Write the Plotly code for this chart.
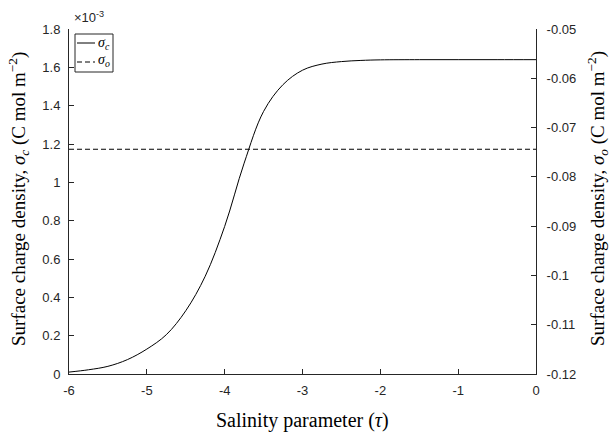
import plotly.graph_objects as go

# ---------------- data ----------------
tau = [-6.0, -5.75, -5.5, -5.25, -5.0, -4.75, -4.5, -4.25, -4.0, -3.75,
       -3.5, -3.25, -3.0, -2.75, -2.5, -2.25, -2.0, -1.5, -1.0, -0.5, 0.0]
sigma_c_e3 = [0.010, 0.022, 0.040, 0.075, 0.130, 0.205, 0.330, 0.510, 0.770, 1.100,
              1.370, 1.510, 1.585, 1.617, 1.630, 1.636, 1.639, 1.640, 1.640, 1.640, 1.640]  # x 1e-3
tau_o = [-6.0, 0.0]
sigma_o = [-0.0744, -0.0744]

x_ticks = [-6, -5, -4, -3, -2, -1, 0]
x_ticktext = ["-6", "-5", "-4", "-3", "-2", "-1", "0"]
yl_ticks = [0, 0.2, 0.4, 0.6, 0.8, 1.0, 1.2, 1.4, 1.6, 1.8]
yl_ticktext = ["0", "0.2", "0.4", "0.6", "0.8", "1", "1.2", "1.4", "1.6", "1.8"]
yr_ticks = [-0.12, -0.11, -0.10, -0.09, -0.08, -0.07, -0.06, -0.05]
yr_ticktext = ["-0.12", "-0.11", "-0.1", "-0.09", "-0.08", "-0.07", "-0.06", "-0.05"]

# ---------------- layout constants ----------------
W, H = 610, 433
L, R, T, B = 69, 74, 29, 59
PW, PH = W - L - R, H - T - B
AX = "#262626"
SANS = "Liberation Sans"
SERIF = "Liberation Serif"


def px(xp):
    return (xp - L) / PW


def py(yp):
    return (H - B - yp) / PH


fig = go.Figure()
fig.add_trace(go.Scatter(x=tau, y=sigma_c_e3, mode="lines", name="σc",
                         line=dict(color="black", width=1, shape="spline", smoothing=1.0),
                         yaxis="y", showlegend=False))
fig.add_trace(go.Scatter(x=tau_o, y=sigma_o, mode="lines", name="σo",
                         line=dict(color="black", width=1, dash="5px,3px"),
                         yaxis="y2", showlegend=False))

axis_common = dict(showgrid=False, zeroline=False, showline=True, linecolor=AX,
                   linewidth=1, ticks="inside", ticklen=5, tickcolor=AX, tickwidth=1,
                   tickfont=dict(family=SANS, size=13, color=AX))

fig.update_layout(
    width=W, height=H,
    margin=dict(l=L, r=R, t=T, b=B),
    paper_bgcolor="white", plot_bgcolor="white",
    font=dict(family=SANS, size=13, color=AX),
    xaxis=dict(range=[-6, 0], tickvals=x_ticks, ticktext=x_ticktext,
               ticklabelstandoff=4, **axis_common),
    yaxis=dict(range=[0, 1.8], tickvals=yl_ticks, ticktext=yl_ticktext,
               ticklabelstandoff=5, **axis_common),
    yaxis2=dict(range=[-0.12, -0.05], tickvals=yr_ticks, ticktext=yr_ticktext,
                overlaying="y", side="right", ticklabelstandoff=7, **axis_common),
    showlegend=False,
)

annotations = [
    dict(text="Surface charge density, <i>σ<sub>c</sub></i> (C mol m<sup>−2</sup>)",
         xref="paper", yref="paper", x=px(18), y=py(199), textangle=-90,
         showarrow=False, xanchor="center", yanchor="middle",
         font=dict(family=SERIF, size=19, color="black")),
    dict(text="Surface charge density, <i>σ<sub>o</sub></i> (C mol m<sup>−2</sup>)",
         xref="paper", yref="paper", x=px(597), y=py(199), textangle=-90,
         showarrow=False, xanchor="center", yanchor="middle",
         font=dict(family=SERIF, size=19, color="black")),
    dict(text="Salinity parameter (<i>τ</i>)",
         xref="paper", yref="paper", x=0.5, y=py(420),
         showarrow=False, xanchor="center", yanchor="middle",
         font=dict(family=SERIF, size=20, color="black")),
    dict(text="×10<sup>-3</sup>",
         xref="paper", yref="paper", x=px(72), y=py(17),
         showarrow=False, xanchor="left", yanchor="middle",
         font=dict(family=SANS, size=13, color=AX)),
    dict(text="<i>σ<sub>c</sub></i>", xref="paper", yref="paper", x=px(96), y=py(43),
         showarrow=False, xanchor="left", yanchor="middle",
         font=dict(family=SERIF, size=14, color="black")),
    dict(text="<i>σ<sub>o</sub></i>", xref="paper", yref="paper", x=px(96), y=py(61),
         showarrow=False, xanchor="left", yanchor="middle",
         font=dict(family=SERIF, size=14, color="black")),
]
fig.update_layout(annotations=annotations)

shapes = [
    dict(type="rect", xref="paper", yref="paper", x0=px(75), x1=px(113), y0=py(72), y1=py(34),
         line=dict(color=AX, width=1), fillcolor="white", layer="above"),
    dict(type="line", xref="paper", yref="paper", x0=px(77), x1=px(95), y0=py(43), y1=py(43),
         line=dict(color="black", width=1)),
    dict(type="line", xref="paper", yref="paper", x0=px(77), x1=px(95), y0=py(62), y1=py(62),
         line=dict(color="black", width=1, dash="5px,3px")),
]
fig.update_layout(shapes=shapes)

fig.write_html("out.html")
